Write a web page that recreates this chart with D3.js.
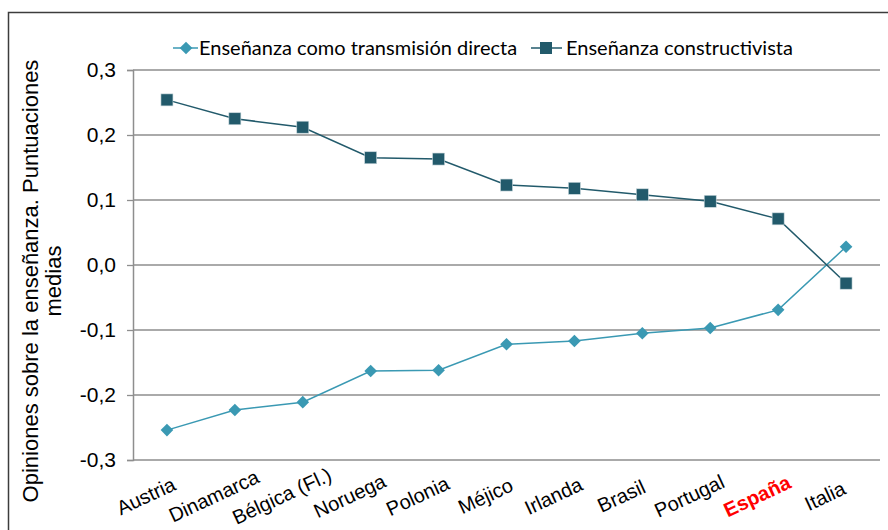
<!DOCTYPE html>
<html>
<head>
<meta charset="utf-8">
<script src="https://cdn.jsdelivr.net/npm/d3@7"></script>
<style>
  body { margin: 0; background: #fff; }
  svg { display: block; }
</style>
</head>
<body>
<div id="vis"></div>
<script>
const countries = ['Austria', 'Dinamarca', 'Bélgica (Fl.)', 'Noruega', 'Polonia', 'Méjico',
    'Irlanda', 'Brasil', 'Portugal', 'España', 'Italia'];
const directa = [-0.254, -0.223, -0.211, -0.163, -0.162, -0.122, -0.117, -0.105, -0.097, -0.069, 0.028];
const constructivista = [0.254, 0.225, 0.212, 0.165, 0.163, 0.123, 0.118, 0.108, 0.098, 0.071, -0.028];
const yTicks = [-0.3, -0.2, -0.1, 0, 0.1, 0.2, 0.3];
const highlight = 'España';

const W = 888, H = 530;
const margin = { top: 70, right: 8, bottom: 70, left: 133 };
const width = W - margin.left - margin.right;
const height = H - margin.top - margin.bottom;

const colDirecta = '#3a99b3';
const colConstr = '#225a6b';
const gridCol = '#8e8e8e';
const arial = 'Arial, "Liberation Sans", sans-serif';

const root = d3.select('#vis').append('svg')
    .attr('width', W)
    .attr('height', H);

// outer chart frame
root.append('rect')
    .attr('x', 8.5).attr('y', 12.5)
    .attr('width', W + 20).attr('height', H + 20)
    .attr('fill', 'none')
    .attr('stroke', '#3c3c3c')
    .attr('stroke-width', 1.5);

const svg = root.append('g')
    .attr('transform', `translate(${margin.left},${margin.top})`);

const x = d3.scaleBand().domain(countries).range([0, width]);
const y = d3.scaleLinear().domain([-0.3, 0.3]).range([height, 0]);
const cx = d => x(d) + x.bandwidth() / 2;

// gridlines
svg.selectAll('.grid')
    .data(yTicks)
    .join('line')
    .attr('class', 'grid')
    .attr('x1', 0).attr('x2', width)
    .attr('y1', d => y(d)).attr('y2', d => y(d))
    .attr('stroke', gridCol)
    .attr('stroke-width', 1.3);

// y axis
const yAxis = d3.axisLeft(y).tickValues(yTicks).tickSize(6).tickPadding(11)
    .tickFormat(d => d3.format('.1f')(d).replace('.', ',').replace('−', '-'));
const ya = svg.append('g').call(yAxis);
ya.select('.domain').attr('stroke', gridCol).attr('stroke-width', 1.5);
ya.selectAll('.tick line').attr('stroke', gridCol).attr('stroke-width', 1.3);
ya.selectAll('.tick text')
    .style('font-family', arial)
    .style('font-size', '21px')
    .attr('fill', '#000');

// x labels
svg.selectAll('.xlab')
    .data(countries)
    .join('text')
    .attr('class', 'xlab')
    .attr('transform', d => `translate(${cx(d) - 21},${height + 36}) rotate(-25)`)
    .attr('text-anchor', 'middle')
    .attr('dy', '0.35em')
    .style('font-family', arial)
    .style('font-size', '20px')
    .style('font-weight', d => d === highlight ? 'bold' : 'normal')
    .attr('fill', d => d === highlight ? '#ff0000' : '#000')
    .text(d => d);

// y title
const ytitle = root.append('text')
    .attr('transform', 'translate(38,281) rotate(-90)')
    .attr('text-anchor', 'middle')
    .style('font-family', arial)
    .style('font-size', '22px')
    .attr('fill', '#000');
ytitle.append('tspan').attr('x', 0).attr('y', 0).text('Opiniones sobre la enseñanza. Puntuaciones');
ytitle.append('tspan').attr('x', 0).attr('y', 23).text('medias');

// series
const line = d3.line().x((d, i) => cx(countries[i])).y(d => y(d));

svg.append('path')
    .datum(directa)
    .attr('d', line)
    .attr('fill', 'none')
    .attr('stroke', colDirecta)
    .attr('stroke-width', 1.5);

svg.append('path')
    .datum(constructivista)
    .attr('d', line)
    .attr('fill', 'none')
    .attr('stroke', colConstr)
    .attr('stroke-width', 1.5);

const diamond = d3.symbol().type(d3.symbolSquare).size(80);
svg.selectAll('.dia')
    .data(directa)
    .join('path')
    .attr('class', 'dia')
    .attr('d', diamond)
    .attr('transform', (d, i) => `translate(${cx(countries[i])},${y(d)}) rotate(45)`)
    .attr('fill', colDirecta);

const sq = 12;
svg.selectAll('.sq')
    .data(constructivista)
    .join('rect')
    .attr('class', 'sq')
    .attr('x', (d, i) => cx(countries[i]) - sq / 2)
    .attr('y', d => y(d) - sq / 2)
    .attr('width', sq).attr('height', sq)
    .attr('fill', colConstr)
    .attr('stroke', '#c9d8dc')
    .attr('stroke-width', 0.6);

// legend
const legend = root.append('g').attr('transform', 'translate(0,48)');
const legFont = 'Lato, "Open Sans", sans-serif';

legend.append('line').attr('x1', 173).attr('x2', 198).attr('y1', 0).attr('y2', 0)
    .attr('stroke', colDirecta).attr('stroke-width', 1.5);
legend.append('path').attr('d', diamond).attr('transform', 'translate(186,0) rotate(45)')
    .attr('fill', colDirecta);
legend.append('text').attr('x', 199).attr('y', 0).attr('dy', '0.35em')
    .style('font-family', legFont).style('font-size', '20px').attr('fill', '#000')
    .text('Enseñanza como transmisión directa');

legend.append('line').attr('x1', 531).attr('x2', 562).attr('y1', 0).attr('y2', 0)
    .attr('stroke', colConstr).attr('stroke-width', 1.5);
legend.append('rect').attr('x', 540).attr('y', -6).attr('width', 12).attr('height', 12)
    .attr('fill', colConstr);
legend.append('text').attr('x', 566).attr('y', 0).attr('dy', '0.35em')
    .style('font-family', legFont).style('font-size', '20px').attr('fill', '#000')
    .text('Enseñanza constructivista');
</script>
</body>
</html>
